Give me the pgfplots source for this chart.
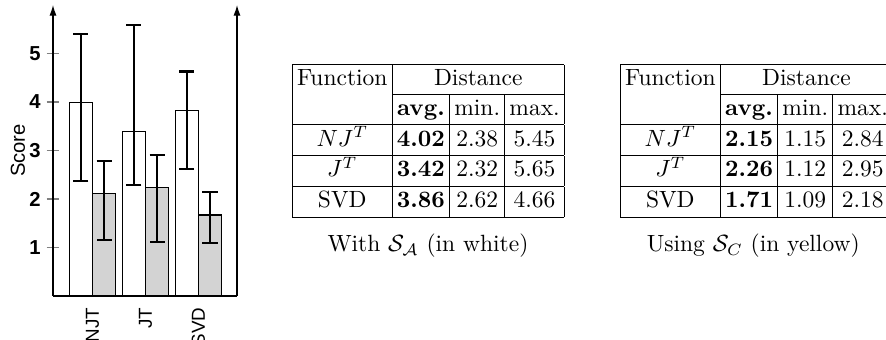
\documentclass[border=0pt]{standalone}
\usepackage{fontspec}
\newfontfamily\chartfont{Liberation Sans}
\usepackage{pgfplots}
\pgfplotsset{compat=1.18}
\usetikzlibrary{arrows.meta}
\definecolor{barfill}{HTML}{D3D3D3}
\renewcommand{\arraystretch}{1.06}
\setlength{\tabcolsep}{2pt}

\begin{document}
\begin{tikzpicture}
\begin{axis}[
  at={(22.55pt,18.3pt)}, anchor=south west,
  scale only axis, width=78.3pt, height=123.8pt,
  axis x line=bottom, axis y line=left,
  x axis line style={-},
  y axis line style={-{Latex[length=4.5pt,width=3pt]}},
  axis line style={line width=0.5pt},
  xmin=-0.745, xmax=2.73, ymin=0, ymax=6,
  ybar, bar width=9.8pt,
  xtick={0,1,2}, xticklabels={NJT,JT,SVD},
  xtick style={draw=none},
  xticklabel shift=-4pt,
  ytick={1,2,3,4,5},
  ytick align=center, major tick length=5.5pt,
  ytick style={line width=0.5pt},
  yticklabel shift=-1pt,
  /pgf/number format/assume math mode=true,
  yticklabel style={font=\chartfont\bfseries\fontsize{8.6}{10}\selectfont},
  xticklabel style={font=\chartfont\fontsize{8}{9}\selectfont, rotate=90, anchor=east},
  ylabel={Score},
  every axis y label/.style={at={(axis description cs:-0.19,0.5)}, rotate=90, anchor=center},
  ylabel style={font=\chartfont\fontsize{8.6}{10}\selectfont},
  clip=false,
]
\addplot[draw=black, line width=0.45pt, fill=white, bar shift=-4.95pt,
  error bars/.cd, y dir=both, y explicit,
  error bar style={line width=0.9pt, black},
  error mark options={rotate=90, mark size=3.2pt, line width=0.9pt, black}]
  coordinates {
    (0,4.00) += (0,1.41) -= (0,1.62)
    (1,3.39) += (0,2.19) -= (0,1.10)
    (2,3.83) += (0,0.80) -= (0,1.21)
  };
\addplot[draw=black, line width=0.45pt, fill=barfill, bar shift=4.95pt,
  error bars/.cd, y dir=both, y explicit,
  error bar style={line width=0.9pt, black},
  error mark options={rotate=90, mark size=3.2pt, line width=0.9pt, black}]
  coordinates {
    (0,2.12) += (0,0.67) -= (0,0.96)
    (1,2.23) += (0,0.68) -= (0,1.11)
    (2,1.67) += (0,0.47) -= (0,0.58)
  };
\draw[line width=0.5pt, -{Latex[length=4.5pt,width=3pt]}] (rel axis cs:1,0) -- (rel axis cs:1,1);
\end{axis}

\node[anchor=north west, inner sep=0pt] at (124.2pt,117.4pt) {%
\begin{tabular}{|c|c|c|c|}
\hline
Function & \multicolumn{3}{c|}{Distance}\\ \cline{2-4}
 & \textbf{avg.} & min. & max.\\ \hline
$NJ^T$ & \textbf{4.02} & 2.38 & 5.45\\ \hline
$J^T$ & \textbf{3.42} & 2.32 & 5.65\\ \hline
SVD & \textbf{3.86} & 2.62 & 4.66\\ \hline
\end{tabular}};
\node at (182.1pt,39.6pt) {With $\mathcal{S}_\mathcal{A}$ (in white)};

\node[anchor=north west, inner sep=0pt] at (263.8pt,117.4pt) {%
\begin{tabular}{|c|c|c|c|}
\hline
Function & \multicolumn{3}{c|}{Distance}\\ \cline{2-4}
 & \textbf{avg.} & min. & max.\\ \hline
$NJ^T$ & \textbf{2.15} & 1.15 & 2.84\\ \hline
$J^T$ & \textbf{2.26} & 1.12 & 2.95\\ \hline
SVD & \textbf{1.71} & 1.09 & 2.18\\ \hline
\end{tabular}};
\node at (320.5pt,39.6pt) {Using $\mathcal{S}_C$ (in yellow)};

\pgfresetboundingbox
\useasboundingbox (0,0) rectangle (377pt,144.25pt);
\end{tikzpicture}
\end{document}
